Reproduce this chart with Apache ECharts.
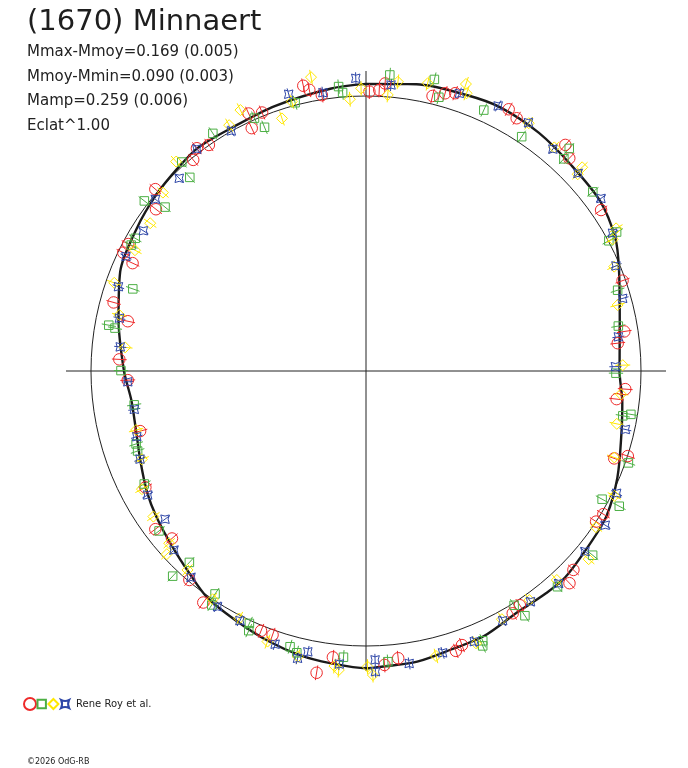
<!DOCTYPE html>
<html>
<head>
<meta charset="utf-8">
<script src="https://cdn.jsdelivr.net/npm/echarts@6/dist/echarts.min.js"></script>
<style>html,body{margin:0;padding:0;background:#fff}#chart{width:688px;height:768px}</style>
</head>
<body>
<div id="chart"></div>
<script>
// ---------- texts ----------
const titleText = '(1670) Minnaert';
const infoLines = ['Mmax-Mmoy=0.169 (0.005)', 'Mmoy-Mmin=0.090 (0.003)', 'Mamp=0.259 (0.006)', 'Eclat^1.00'];
const legendLabel = 'Rene Roy et al.';
const creditText = '\u00A92026 OdG-RB';

// ---------- axes ----------
const angleTickStep = 90;       // cross lines every 90 deg of phase
const refRadius = 1.0;          // reference circle (mean brightness)
const radiusMax = 1.0909;       // extent of the cross lines

// ---------- fitted model curve: [phase deg, relative intensity] ----------
const fitCurve = [
  [0,1.044],[10,1.059],[20,1.068],[27,1.076],[36,1.070],[45,1.057],[54,1.052],[62,1.027],
  [68,0.992],[79,0.940],[90,0.922],[97,0.939],[104,0.957],[113,0.993],[121,1.021],[127,1.028],
  [136,1.043],[141,1.040],[148,1.036],[156,1.055],[163,1.059],[170,1.073],[177,1.077],[180,1.081],
  [187,1.070],[193,1.061],[200,1.044],[208,1.022],[215,1.006],[221,0.977],[228,0.950],[235,0.929],
  [241,0.910],[248,0.884],[256,0.863],[263,0.860],[270,0.880],[282,0.920],[292,0.964],[302,0.982],
  [310,0.996],[317,1.006],[323,1.016],[331,1.010],[341,1.019],[353,1.035],[360,1.044]
];

// ---------- observations: [phase deg, relative intensity] ----------
const set1Red = [
  [347.6,1.062],[348.6,1.043],[350.9,1.016],[335.5,1.029],[338.1,1.013],[334.8,0.976],[322.8,1.017],
  [325.2,1.001],[320.7,0.992],[310.8,1.012],[307.6,0.964],[298.1,0.980],[296.0,0.982],[294.8,0.935],
  [285.2,0.951],[281.8,0.885],[272.7,0.898],
  [0.7,1.016],[2.7,1.023],[3.8,1.048],[13.6,1.029],[15.9,1.050],[17.8,1.061],[28.6,1.084],[30.8,1.070],
  [41.4,1.096],[43.7,1.070],[55.6,1.036],[70.6,0.989],[81.3,0.950],[83.7,0.921],
  [94.0,0.945],[96.4,0.917],[108.0,1.001],[109.4,0.957],[121.1,1.008],[123.2,1.000],[133.8,1.045],
  [136.2,1.069],[146.7,1.019],[148.8,1.030],[160.7,1.056],[162.2,1.069],[173.6,1.051],[176.4,1.071],
  [267.8,0.867],[255.1,0.850],[242.2,0.907],[233.1,0.958],[229.2,0.932],[220.2,0.995],[215.1,1.029],
  [202.0,1.019],[199.5,1.018],[186.6,1.048],[189.3,1.112]
];
const set2Green = [
  [354.5,1.039],[355.2,1.016],[345.2,1.009],[336.2,1.005],[337.4,0.960],[327.2,1.028],[318.6,1.013],
  [317.7,0.952],[307.5,1.016],[309.2,0.943],[299.9,0.968],[298.2,0.969],[289.4,0.899],[280.1,0.950],
  [279.7,0.926],
  [4.6,1.080],[13.2,1.089],[14.9,1.030],[24.3,1.041],[33.6,1.023],[42.4,1.096],[43.0,1.055],[51.7,1.051],
  [61.0,1.042],[61.8,1.002],[72.2,0.961],[79.9,0.932],
  [90.5,0.909],[99.9,0.948],[99.3,0.976],[109.3,1.011],[118.5,0.977],[118.1,1.044],[129.1,1.062],
  [138.4,1.049],[147.7,1.008],[147.0,1.061],[156.6,1.069],[157.0,1.086],[175.7,1.060],
  [270.1,0.891],[261.7,0.852],[252.4,0.877],[250.7,0.880],[243.0,0.905],[232.3,0.951],[222.7,0.947],
  [223.3,1.025],[214.1,0.979],[213.4,1.019],[204.8,1.011],[204.3,1.036],[195.4,1.040],[193.8,1.055],
  [184.5,1.044]
];
const set3Yellow = [
  [349.4,1.087],[359.0,1.028],[356.6,0.990],[344.6,1.016],[334.3,1.053],[341.6,0.968],[330.9,1.023],
  [317.8,1.028],[311.3,0.983],[304.4,0.951],[297.6,0.948],[289.3,0.970],[282.8,0.920],[275.6,0.880],
  [4.5,1.007],[6.3,1.058],[12.1,1.070],[19.2,1.105],[19.9,1.074],[33.3,1.078],[40.1,1.063],[46.7,1.080],
  [47.1,1.051],[60.3,1.047],[61.9,1.017],[67.2,0.979],[75.3,0.946],[88.7,0.934],
  [95.2,0.931],[101.9,0.932],[109.2,0.956],[116.7,1.011],[124.2,1.011],[130.2,1.060],[137.6,1.029],
  [144.5,1.023],[151.3,1.029],[158.0,1.068],[166.2,1.067],[178.7,1.106],[179.7,1.075],
  [255.6,0.863],[248.5,0.876],[242.2,0.921],[235.6,0.937],[228.8,0.951],[227.4,0.984],[221.9,0.972],
  [213.9,1.000],[207.1,1.011],[200.0,1.047],[193.4,1.068],[186.1,1.079],[185.2,1.092]
];
const set4Blue = [
  [358.0,1.065],[351.2,1.024],[344.4,1.045],[330.7,1.001],[322.7,1.015],[315.9,0.976],[309.2,0.988],
  [302.2,0.957],[295.5,0.967],[288.8,0.951],[282.1,0.917],[275.6,0.898],
  [5.0,1.044],[18.6,1.065],[26.5,1.077],[33.2,1.079],[40.1,1.055],[47.0,1.054],[53.7,1.060],[60.8,1.027],
  [67.2,0.986],[74.2,0.970],[82.3,0.926],[89.0,0.907],
  [102.7,0.967],[116.0,1.014],[122.8,1.035],[129.5,1.032],[137.8,1.043],[144.5,1.030],[151.3,1.035],
  [158.2,1.060],[164.8,1.062],[171.6,1.075],[178.2,1.051],[178.2,1.094],
  [267.4,0.867],[260.6,0.854],[254.0,0.867],[248.7,0.882],[240.4,0.913],[233.6,0.908],[227.0,0.955],
  [220.3,0.984],[212.2,1.013],[206.8,1.017],[198.4,1.047],[193.4,1.074],[191.7,1.043],[185.2,1.070]
];
const seriesNames = ['Rene Roy et al. (a)', 'Rene Roy et al. (b)', 'Rene Roy et al. (c)', 'Rene Roy et al. (d)'];
const errorHalf = [0.027, 0.026, 0.027, 0.022];   // radial error bar half-length per set

// ---------- styles ----------
const colors = ['#ee2a2a', '#4caf44', '#ffe800', '#2f47a8'];
const starPath = 'path://M0,0Q4,2.2 8,0Q5.8,4 8,8Q4,5.8 0,8Q2.2,4 0,0Z';
const symbols = ['circle', 'rect', 'diamond', starPath];
const symbolSizes = [11.5, 8.5, 11, 8.5];
const legendIcons = [
  'circle',
  'path://M0,0M12,12M1.8,1.8L10.2,1.8L10.2,10.2L1.8,10.2Z',
  'path://M0,0M12,12M6,1L11,6L6,11L1,6Z',
  'path://M0,0M12,12M2,2Q6,4 10,2Q8,6 10,10Q6,8 2,10Q4,6 2,2Z'
];
const FONT = '"DejaVu Sans", "Liberation Sans", sans-serif';

const toPolar = pts => pts.map(p => [p[1], p[0]]);
const obsSets = [set1Red, set2Green, set3Yellow, set4Blue];

const series = [];
series.push({
  type: 'line', coordinateSystem: 'polar', smooth: 0.3, symbol: 'none', silent: true, z: 2,
  data: toPolar(fitCurve),
  lineStyle: { color: '#1a1a1a', width: 2.4 }
});
obsSets.forEach((pts, i) => {
  const err = errorHalf[i];
  series.push({
    type: 'custom', coordinateSystem: 'polar', silent: true, z: 3,
    data: toPolar(pts),
    renderItem: function (params, api) {
      const r = api.value(0), a = api.value(1);
      const p1 = api.coord([r - err, a]);
      const p2 = api.coord([r + err, a]);
      return { type: 'line', shape: { x1: p1[0], y1: p1[1], x2: p2[0], y2: p2[1] },
               style: { stroke: colors[i], lineWidth: 1 } };
    }
  });
  series.push({
    type: 'scatter', name: seriesNames[i], coordinateSystem: 'polar', silent: true, clip: false, z: 4,
    symbol: symbols[i], symbolSize: symbolSizes[i],
    itemStyle: { color: 'rgba(0,0,0,0)', borderColor: colors[i], borderWidth: 1, opacity: 1 },
    data: toPolar(pts)
  });
});

const graphics = [
  { type: 'text', left: 27, top: 8, style: { text: titleText, font: '29px ' + FONT, fill: '#1e1e1e' } }
];
infoLines.forEach((t, i) => {
  graphics.push({ type: 'text', left: 27, top: 45 + i * 24.5, style: { text: t, font: '15px ' + FONT, fill: '#222' } });
});
graphics.push({ type: 'text', left: 27, top: 758, style: { text: creditText, font: '8px ' + FONT, fill: '#222' } });

const chart = echarts.init(document.getElementById('chart'), null, { renderer: 'canvas' });
chart.setOption({
  animation: false,
  backgroundColor: '#fff',
  polar: { center: [366, 371], radius: 300 },
  angleAxis: {
    type: 'value', min: 0, max: 360, interval: angleTickStep, startAngle: 90, clockwise: true,
    axisLine: { show: false }, axisTick: { show: false }, axisLabel: { show: false },
    splitLine: { show: true, lineStyle: { color: '#222', width: 1 } }
  },
  radiusAxis: {
    type: 'value', min: 0, max: radiusMax, interval: refRadius,
    axisLine: { show: false }, axisTick: { show: false }, axisLabel: { show: false },
    splitLine: { show: true, lineStyle: { color: ['rgba(0,0,0,0)', '#222', 'rgba(0,0,0,0)'], width: 1 } }
  },
  legend: {
    left: 23, top: 697, padding: 0, itemWidth: 12, itemHeight: 12, itemGap: -2.3, selectedMode: false,
    data: seriesNames.map((n, i) => ({ name: n, icon: legendIcons[i] })),
    formatter: n => (n === seriesNames[3] ? legendLabel : ''),
    textStyle: { fontFamily: FONT, fontSize: 10, color: '#222' }
  },
  graphic: graphics,
  series: series
});
</script>
</body>
</html>
